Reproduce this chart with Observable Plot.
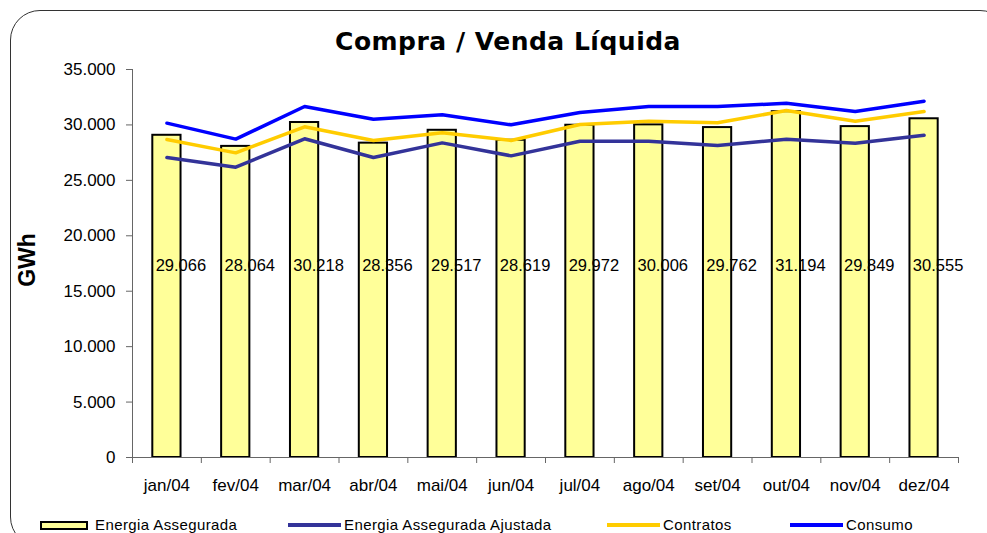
<!DOCTYPE html>
<html>
<head>
<meta charset="utf-8">
<script src="https://cdn.jsdelivr.net/npm/d3@7"></script>
<script src="https://cdn.jsdelivr.net/npm/@observablehq/plot@0.6"></script>
<style>
  html, body { margin: 0; padding: 0; background: #fff; overflow: hidden; }
  #wrap { position: relative; width: 987px; height: 533px; overflow: hidden; font-family: "Liberation Sans", Arial, sans-serif; }
  #border { position: absolute; left: 10px; top: 10px; width: 1000px; height: 537px; border: 1.5px solid #333; border-radius: 30px; box-sizing: border-box; }
  #title { position: absolute; left: 0; width: 1016px; top: 29px; text-align: center; font-family: "DejaVu Sans", Verdana, sans-serif; font-weight: bold; font-size: 25px; line-height: 25px; letter-spacing: 0.5px; color: #000; }
  #ylabel { position: absolute; left: 27px; top: 260px; transform: translate(-50%, -50%) rotate(-90deg); font-weight: bold; font-size: 23px; line-height: 23px; white-space: nowrap; }
  #chart { position: absolute; left: 0; top: 0; }
  .leg { position: absolute; top: 517px; height: 16px; font-size: 15px; line-height: 16px; letter-spacing: 0.4px; white-space: nowrap; display: flex; align-items: center; }
  .sw-bar { width: 48px; height: 9px; background: #FFFF99; border: 2px solid #000; box-sizing: border-box; margin-right: 7px; }
  .sw-line { width: 53px; height: 4px; margin-right: 3px; }
</style>
</head>
<body>
<div id="wrap">
  <div id="border"></div>
  <div id="chart"></div>
  <div id="title">Compra / Venda Líquida</div>
  <div id="ylabel">GWh</div>
  <div id="legend"></div>
</div>
<script>
const months = ["jan/04","fev/04","mar/04","abr/04","mai/04","jun/04","jul/04","ago/04","set/04","out/04","nov/04","dez/04"];
const energiaAssegurada = [29066, 28064, 30218, 28356, 29517, 28619, 29972, 30006, 29762, 31194, 29849, 30555];
const energiaAjustada = [27060, 26190, 28750, 27060, 28380, 27210, 28530, 28530, 28140, 28710, 28350, 29070];
const contratos = [28680, 27480, 29830, 28600, 29290, 28600, 30040, 30340, 30190, 31300, 30340, 31210];
const consumo = [30160, 28720, 31660, 30520, 30910, 30010, 31120, 31660, 31660, 31960, 31210, 32140];
const yTicks = [0, 5000, 10000, 15000, 20000, 25000, 30000, 35000];
const seriesNames = ["Energia Assegurada", "Energia Assegurada Ajustada", "Contratos", "Consumo"];
const seriesColors = ["#FFFF99", "#333399", "#FFCC00", "#0000FF"];

const locale = d3.formatLocale({decimal: ",", thousands: ".", grouping: [3], currency: ["R$", ""]});
const fmt = locale.format(",d");

const rows = months.map((m, i) => ({
  month: m,
  ea: energiaAssegurada[i],
  aj: energiaAjustada[i],
  ct: contratos[i],
  cs: consumo[i]
}));

const W = 987, H = 500, mL = 132, mR = 29, mT = 69, mB = 43;
const step = (W - mL - mR) / months.length;
const axisColor = "#666";

const chart = Plot.plot({
  width: W,
  height: H,
  marginLeft: mL,
  marginRight: mR,
  marginTop: mT,
  marginBottom: mB,
  style: {fontFamily: "'Liberation Sans', Arial, sans-serif", fontSize: "17px", color: "#000", background: "transparent", overflow: "visible"},
  x: {domain: months, paddingInner: 0.59, paddingOuter: 0.295, round: false, label: null},
  y: {domain: [0, 35000], label: null},
  marks: [
    Plot.barY(rows, {x: "month", y: "ea", fill: seriesColors[0], stroke: "#000", strokeWidth: 2}),
    Plot.line(rows, {x: "month", y: "aj", stroke: seriesColors[1], strokeWidth: 3.5}),
    Plot.line(rows, {x: "month", y: "ct", stroke: seriesColors[2], strokeWidth: 3.5}),
    Plot.line(rows, {x: "month", y: "cs", stroke: seriesColors[3], strokeWidth: 3.5}),
    Plot.text(rows, {x: "month", y: () => 17300, text: d => fmt(d.ea), dx: 14, fontSize: 16.5, fill: "#000"}),
    Plot.ruleY([0], {stroke: axisColor}),
    Plot.frame({anchor: "left", stroke: axisColor}),
    Plot.axisY({ticks: yTicks, tickFormat: fmt, tickSize: 6, tickPadding: 11, stroke: axisColor, fill: "#000", label: null}),
    Plot.axisX({tickSize: 0, tickPadding: 21, label: null, fill: "#000", style: {letterSpacing: "0.6px"}}),
    Plot.ruleX(months, {x: d => d, y1: () => 0, y2: () => 0, dx: -step / 2, insetBottom: -6, stroke: axisColor}),
    Plot.ruleX([months[months.length - 1]], {x: d => d, y1: () => 0, y2: () => 0, dx: step / 2, insetBottom: -6, stroke: axisColor})
  ]
});
document.getElementById("chart").appendChild(chart);

// legend
const legendX = [40, 288, 607, 790];
const legend = document.getElementById("legend");
seriesNames.forEach((name, i) => {
  const item = document.createElement("div");
  item.className = "leg";
  item.style.left = legendX[i] + "px";
  const sw = document.createElement("div");
  if (i === 0) {
    sw.className = "sw-bar";
  } else {
    sw.className = "sw-line";
    sw.style.background = seriesColors[i];
  }
  item.appendChild(sw);
  const t = document.createElement("span");
  t.textContent = name;
  item.appendChild(t);
  legend.appendChild(item);
});
</script>
</body>
</html>
